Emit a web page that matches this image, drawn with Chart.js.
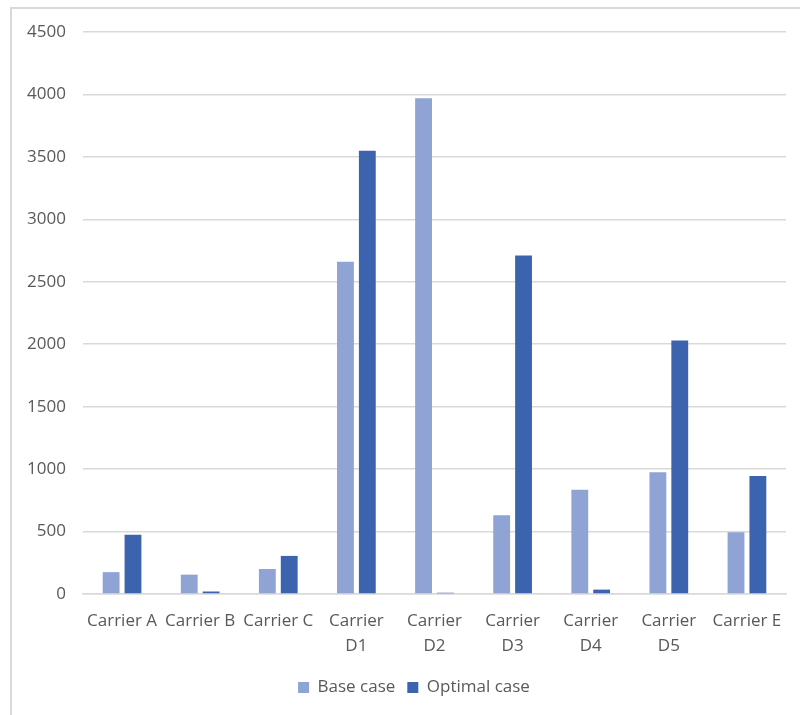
<!DOCTYPE html>
<html>
<head>
<meta charset="utf-8">
<script src="https://cdn.jsdelivr.net/npm/chart.js@4"></script>
<style>
  html, body { margin: 0; padding: 0; background: #fff; }
  #wrap { position: relative; width: 800px; height: 715px; }
  #frame { position: absolute; left: 10px; top: 7px; right: -2px; bottom: -2px;
           border-left: 2px solid #d9d9d9; border-top: 2px solid #d9d9d9; }
  canvas { position: absolute; left: 0; top: 0; }
</style>
</head>
<body>
<div id="wrap">
  <div id="frame"></div>
  <canvas id="c" width="800" height="715"></canvas>
</div>
<script>
const categories = ["Carrier A", "Carrier B", "Carrier C", ["Carrier", "D1"], ["Carrier", "D2"],
                    ["Carrier", "D3"], ["Carrier", "D4"], ["Carrier", "D5"], "Carrier E"];
const baseCase    = [175, 155, 200, 2660, 3970, 630, 835, 975, 495];
const optimalCase = [475, 20, 305, 3550, 10, 2710, 35, 2030, 945];
const yTicks = [0, 500, 1000, 1500, 2000, 2500, 3000, 3500, 4000, 4500];

const FONT = "'Open Sans', 'Noto Sans', sans-serif";
const TEXT = "#595959";
const GRID = "#d9d9d9";

// shift the legend so it sits centred under the whole chart
const legendShift = {
  id: "legendShift",
  afterLayout(chart) {
    const lg = chart.legend;
    if (!lg) return;
    const dx = 16;
    lg.left += dx; lg.right += dx;
  }
};

new Chart(document.getElementById("c"), {
  type: "bar",
  data: {
    labels: categories,
    datasets: [
      { label: "Base case", data: baseCase, backgroundColor: "#8fa4d4" },
      { label: "Optimal case", data: optimalCase, backgroundColor: "#3c63ad" }
    ]
  },
  options: {
    responsive: false,
    animation: false,
    devicePixelRatio: 1,
    layout: { padding: { left: 10, right: 14, top: 32, bottom: 9 } },
    datasets: { bar: { categoryPercentage: 0.56, barPercentage: 0.77 } },
    scales: {
      x: {
        grid: { display: false },
        border: { display: true, color: GRID, width: 1.5 },
        ticks: {
          color: TEXT, padding: 7, maxRotation: 0, autoSkip: false,
          font: { family: FONT, size: 17, lineHeight: 1.47 }
        },
        afterFit(scale) { scale.height = 73; }
      },
      y: {
        min: 0, max: 4500,
        afterBuildTicks(scale) { scale.ticks = yTicks.map(v => ({ value: v })); },
        grid: { color: GRID, lineWidth: 1.5, drawTicks: false },
        border: { display: false },
        ticks: {
          color: TEXT, padding: 17,
          callback: v => String(v),
          font: { family: FONT, size: 17 }
        },
        afterFit(scale) { scale.width = 73; }
      }
    },
    plugins: {
      legend: {
        position: "bottom",
        labels: {
          color: TEXT, boxWidth: 11, boxHeight: 11, padding: 12,
          font: { family: FONT, size: 17 }
        }
      },
      tooltip: { enabled: false }
    }
  },
  plugins: [legendShift]
});
</script>
</body>
</html>
